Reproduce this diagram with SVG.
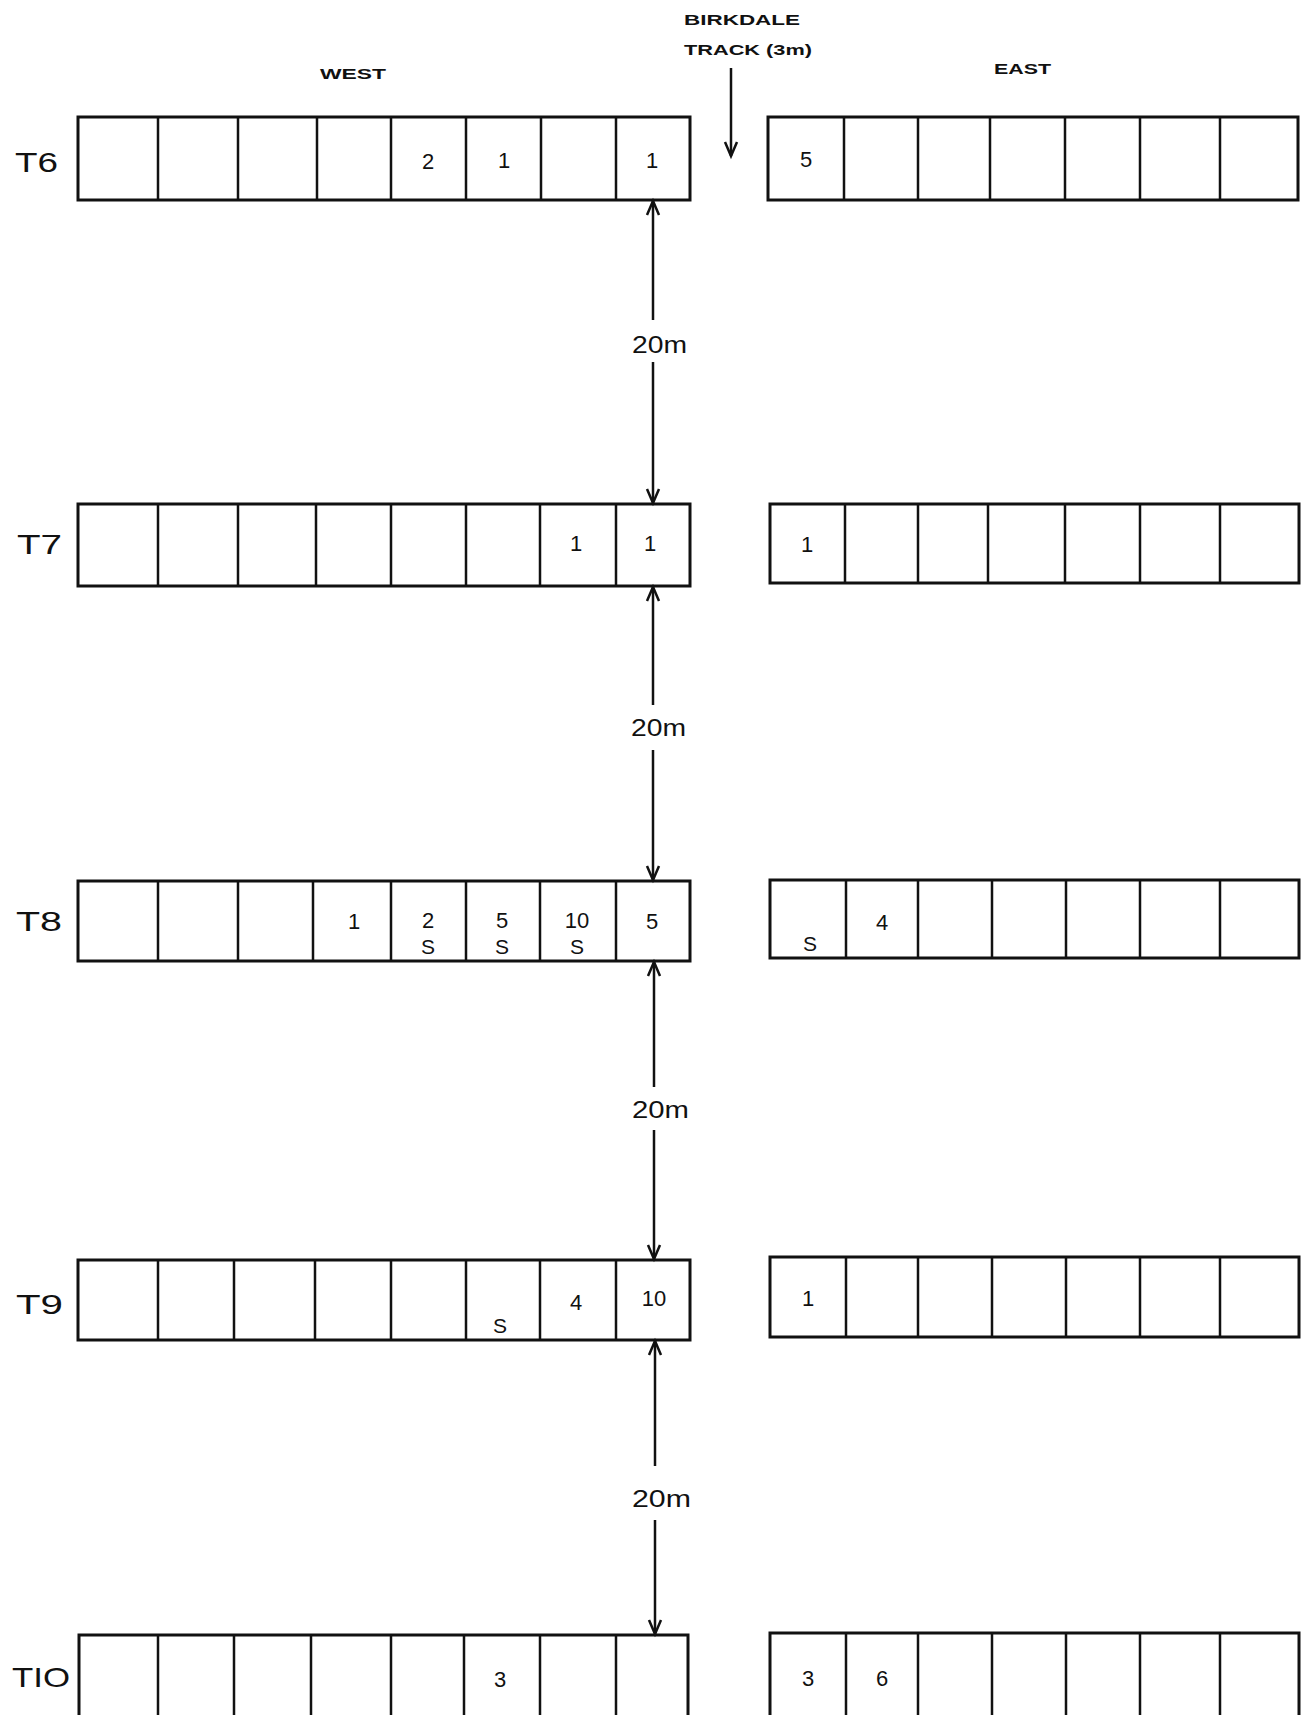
<svg xmlns="http://www.w3.org/2000/svg" width="1312" height="1715" viewBox="0 0 1312 1715">
<style>
.bx{fill:none;stroke:#111;stroke-width:3}
.dv{stroke:#111;stroke-width:2.5}
.n{font-family:"Liberation Sans",Arial,sans-serif;font-size:22px;fill:#111;text-anchor:middle}
.s{font-family:"Liberation Sans",Arial,sans-serif;font-size:21px;fill:#111;text-anchor:middle}
.lb{font-family:"Liberation Sans",Arial,sans-serif;font-size:28px;fill:#111}
.hd{font-family:"Liberation Sans",Arial,sans-serif;font-size:15px;font-weight:bold;fill:#111}
.dm{font-family:"Liberation Sans",Arial,sans-serif;font-size:23px;fill:#111}
.cn{stroke:#111;stroke-width:2.5;fill:none}
</style>
<defs>
<marker id="ah" markerUnits="userSpaceOnUse" markerWidth="30" markerHeight="30" refX="0" refY="0" orient="auto-start-reverse" overflow="visible">
<path d="M -14 -6 L 0 0 L -14 6" fill="none" stroke="#111" stroke-width="2.5"/>
</marker>
</defs>
<rect width="1312" height="1715" fill="#fff"/>

<g id="headings">
<text class="hd" x="320" y="79" textLength="66" lengthAdjust="spacingAndGlyphs">WEST</text>
<text class="hd" x="994" y="74" textLength="57" lengthAdjust="spacingAndGlyphs">EAST</text>
<text class="hd" x="684" y="25" textLength="116" lengthAdjust="spacingAndGlyphs">BIRKDALE</text>
<text class="hd" x="684" y="55" textLength="128" lengthAdjust="spacingAndGlyphs">TRACK (3m)</text>
</g>

<g id="row-labels">
<text class="lb" x="15" y="172" textLength="43" lengthAdjust="spacingAndGlyphs">T6</text>
<text class="lb" x="17" y="554" textLength="45" lengthAdjust="spacingAndGlyphs">T7</text>
<text class="lb" x="16" y="931" textLength="46" lengthAdjust="spacingAndGlyphs">T8</text>
<text class="lb" x="16" y="1314" textLength="47" lengthAdjust="spacingAndGlyphs">T9</text>
<text class="lb" x="12" y="1687" textLength="58" lengthAdjust="spacingAndGlyphs">TIO</text>
</g>

<g id="t6-west">
<rect class="bx" x="78" y="117" width="612" height="83"/>
<path class="dv" d="M158 117V200M238 117V200M317 117V200M391 117V200M466 117V200M541 117V200M616 117V200"/>
<text class="n" x="428" y="169">2</text>
<text class="n" x="504" y="168">1</text>
<text class="n" x="652" y="168">1</text>
</g>
<g id="t6-east">
<rect class="bx" x="768" y="117" width="530" height="83"/>
<path class="dv" d="M844 117V200M918 117V200M990 117V200M1065 117V200M1140 117V200M1220 117V200"/>
<text class="n" x="806" y="167">5</text>
</g>

<g id="t7-west">
<rect class="bx" x="78" y="504" width="612" height="82"/>
<path class="dv" d="M158 504V586M238 504V586M316 504V586M391 504V586M466 504V586M540 504V586M616 504V586"/>
<text class="n" x="576" y="551">1</text>
<text class="n" x="650" y="551">1</text>
</g>
<g id="t7-east">
<rect class="bx" x="770" y="504" width="529" height="79"/>
<path class="dv" d="M845 504V583M918 504V583M988 504V583M1065 504V583M1140 504V583M1220 504V583"/>
<text class="n" x="807" y="552">1</text>
</g>

<g id="t8-west">
<rect class="bx" x="78" y="881" width="612" height="80"/>
<path class="dv" d="M158 881V961M238 881V961M313 881V961M391 881V961M466 881V961M540 881V961M616 881V961"/>
<text class="n" x="354" y="929">1</text>
<text class="n" x="428" y="928">2</text>
<text class="s" x="428" y="954">S</text>
<text class="n" x="502" y="928">5</text>
<text class="s" x="502" y="954">S</text>
<text class="n" x="577" y="928">10</text>
<text class="s" x="577" y="954">S</text>
<text class="n" x="652" y="929">5</text>
</g>
<g id="t8-east">
<rect class="bx" x="770" y="880" width="529" height="78"/>
<path class="dv" d="M846 880V958M918 880V958M992 880V958M1066 880V958M1140 880V958M1220 880V958"/>
<text class="s" x="810" y="951">S</text>
<text class="n" x="882" y="930">4</text>
</g>

<g id="t9-west">
<rect class="bx" x="78" y="1260" width="612" height="80"/>
<path class="dv" d="M158 1260V1340M234 1260V1340M315 1260V1340M391 1260V1340M466 1260V1340M540 1260V1340M616 1260V1340"/>
<text class="s" x="500" y="1333">S</text>
<text class="n" x="576" y="1310">4</text>
<text class="n" x="654" y="1306">10</text>
</g>
<g id="t9-east">
<rect class="bx" x="770" y="1257" width="529" height="80"/>
<path class="dv" d="M846 1257V1337M918 1257V1337M992 1257V1337M1066 1257V1337M1140 1257V1337M1220 1257V1337"/>
<text class="n" x="808" y="1306">1</text>
</g>

<g id="t10-west">
<rect class="bx" x="79" y="1635" width="609" height="90"/>
<path class="dv" d="M158 1635V1725M234 1635V1725M311 1635V1725M391 1635V1725M464 1635V1725M540 1635V1725M616 1635V1725"/>
<text class="n" x="500" y="1687">3</text>
</g>
<g id="t10-east">
<rect class="bx" x="770" y="1633" width="529" height="90"/>
<path class="dv" d="M846 1633V1723M918 1633V1723M992 1633V1723M1066 1633V1723M1140 1633V1723M1220 1633V1723"/>
<text class="n" x="808" y="1686">3</text>
<text class="n" x="882" y="1686">6</text>
</g>

<g id="connectors">
<line class="cn" x1="731" y1="68" x2="731" y2="156" marker-end="url(#ah)"/>
<line class="cn" x1="653" y1="201" x2="653" y2="320" marker-start="url(#ah)"/>
<line class="cn" x1="653" y1="362" x2="653" y2="503" marker-end="url(#ah)"/>
<line class="cn" x1="653" y1="587" x2="653" y2="705" marker-start="url(#ah)"/>
<line class="cn" x1="653" y1="750" x2="653" y2="880" marker-end="url(#ah)"/>
<line class="cn" x1="654" y1="962" x2="654" y2="1087" marker-start="url(#ah)"/>
<line class="cn" x1="654" y1="1130" x2="654" y2="1259" marker-end="url(#ah)"/>
<line class="cn" x1="655" y1="1341" x2="655" y2="1466" marker-start="url(#ah)"/>
<line class="cn" x1="655" y1="1520" x2="655" y2="1634" marker-end="url(#ah)"/>
<text class="dm" x="632" y="353" textLength="55" lengthAdjust="spacingAndGlyphs">20m</text>
<text class="dm" x="631" y="736" textLength="55" lengthAdjust="spacingAndGlyphs">20m</text>
<text class="dm" x="632" y="1118" textLength="57" lengthAdjust="spacingAndGlyphs">20m</text>
<text class="dm" x="632" y="1507" textLength="59" lengthAdjust="spacingAndGlyphs">20m</text>
</g>
</svg>
